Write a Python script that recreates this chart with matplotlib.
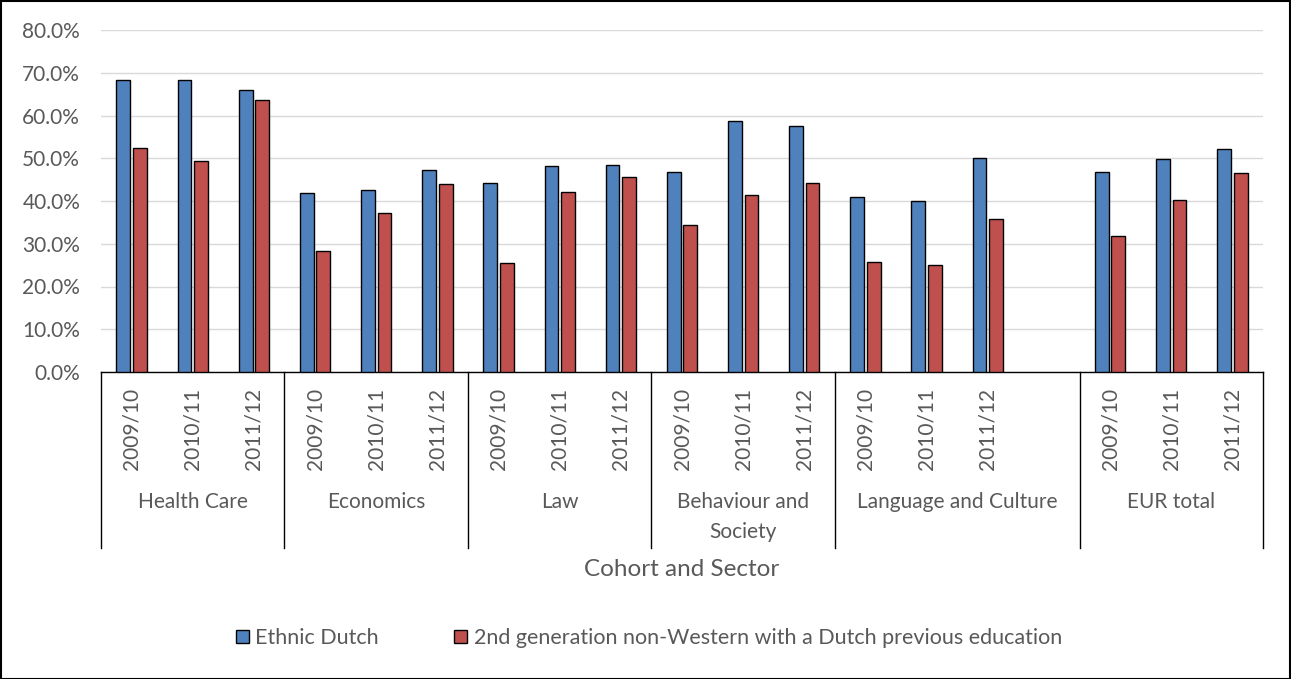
import matplotlib
matplotlib.use("Agg")
import matplotlib.pyplot as plt
from matplotlib.patches import Patch, Rectangle
import numpy as np

sectors = ["Health Care", "Economics", "Law", "Behaviour and\nSociety", "Language and Culture", "EUR total"]
cohorts = ["2009/10", "2010/11", "2011/12"]
# number of slots per sector (Language and Culture has an empty fourth slot)
slots_per_sector = [3, 3, 3, 3, 4, 3]

ethnic_dutch = [68.2, 68.3, 66.0,
                41.8, 42.6, 47.2,
                44.1, 48.3, 48.4,
                46.8, 58.6, 57.6,
                41.0, 40.0, 50.0,
                46.7, 49.8, 52.1]
second_gen = [52.4, 49.3, 63.6,
              28.4, 37.1, 44.0,
              25.4, 42.0, 45.7,
              34.3, 41.5, 44.3,
              25.8, 25.0, 35.7,
              31.7, 40.2, 46.6]
series_names = ["Ethnic Dutch", "2nd generation non-Western with a Dutch previous education"]

blue = "#4F81BD"
red = "#C0504D"
txt = "#595959"
plt.rcParams['font.family'] = ['Lato', 'DejaVu Sans']

W, H = 1291, 679
fig = plt.figure(figsize=(W / 100, H / 100), dpi=100)
ax = fig.add_axes([101 / W, (H - 372) / H, (1263 - 101) / W, 342 / H])

# positions
pos = []
bounds = [-0.5]
start = 0
for n in slots_per_sector:
    pos.extend(range(start, start + 3))
    start += n
    bounds.append(start - 0.5)
pos = np.array(pos, dtype=float)

bw = 0.225
off = 0.135
ax.bar(pos - off, ethnic_dutch, bw, color=blue, edgecolor="black", linewidth=1, zorder=3)
ax.bar(pos + off, second_gen, bw, color=red, edgecolor="black", linewidth=1, zorder=3)

ax.set_xlim(-0.5, start - 0.5)
ax.set_ylim(0, 80)
ax.set_yticks(np.arange(0, 81, 10))
ax.set_yticklabels([f"{v:.1f}%" for v in np.arange(0, 81, 10)], color=txt, fontsize=15)
ax.tick_params(axis='y', length=0, pad=15)
ax.tick_params(axis='x', length=0, labelbottom=False)
ax.grid(axis='y', color="#D9D9D9", linewidth=1, zorder=0)
for s in ["top", "right", "left"]:
    ax.spines[s].set_visible(False)
ax.spines["bottom"].set_color("black")
ax.spines["bottom"].set_linewidth(1)

trans = ax.get_xaxis_transform()
# group dividers
for b in bounds:
    ax.plot([b, b], [0, -0.515], transform=trans, color="black", lw=1, clip_on=False)

# cohort labels
for p, c in zip(pos, cohorts * len(sectors)):
    ax.text(p, -0.045, c, transform=trans, rotation=90, ha="center", va="top",
            color=txt, fontsize=15)

# sector labels
for i, s in enumerate(sectors):
    cx = (bounds[i] + bounds[i + 1]) / 2
    for j, line in enumerate(s.split("\n")):
        ax.text(cx, -0.38 - j * 0.088, line, transform=trans, ha="center", va="center",
                color=txt, fontsize=15)

ax.text(0.5, -0.578, "Cohort and Sector", transform=ax.transAxes, ha="center", va="center",
        color=txt, fontsize=17.5)

handles = [Patch(facecolor=blue, edgecolor="black", linewidth=1),
           Patch(facecolor=red, edgecolor="black", linewidth=1)]
fig.legend(handles, series_names, loc="center", bbox_to_anchor=(649 / W, 1 - 638 / H),
           ncol=2, frameon=False, fontsize=15.5, labelcolor=txt, handlelength=0.6,
           handleheight=0.6, handletextpad=0.3, columnspacing=3.5)

fig.patches.append(Rectangle((0.5 / W, 0.5 / H), 1 - 1.5 / W, 1 - 1.5 / H, transform=fig.transFigure,
                             fill=False, edgecolor="black", linewidth=1.5))

fig.savefig("out.png", dpi=100)
